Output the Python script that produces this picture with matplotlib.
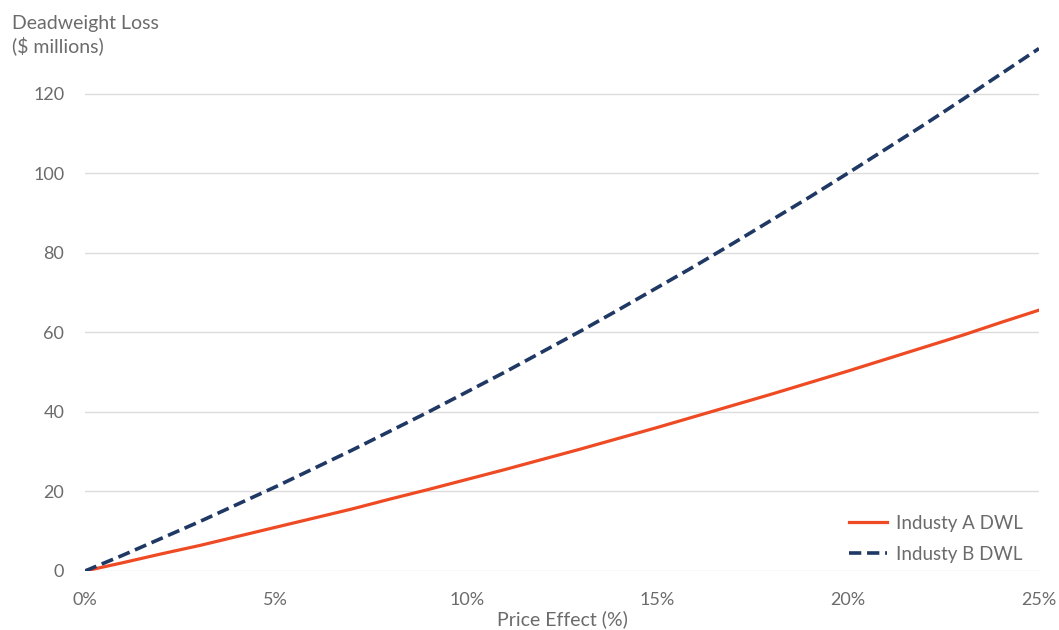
import matplotlib.pyplot as plt
from matplotlib.ticker import FuncFormatter

# price effect in percent, and deadweight loss ($ millions) for each industry
price_effect = [0, 1, 2, 3, 4, 5, 6, 7, 8, 9, 10, 11, 12,
                13, 14, 15, 16, 17, 18, 19, 20, 21, 22, 23, 24, 25]
dwl_a = [0, 2.1, 4.3, 6.4, 8.7, 11.0, 13.3, 15.6, 18.1, 20.5, 23.0, 25.5, 28.1,
         30.7, 33.4, 36.1, 38.9, 41.7, 44.5, 47.4, 50.3, 53.3, 56.3, 59.3, 62.5, 65.6]
dwl_b = [0, 4.0, 8.2, 12.4, 16.8, 21.2, 25.8, 30.4, 35.2, 40.0, 45.0, 50.0, 55.2,
         60.4, 65.8, 71.3, 76.8, 82.5, 88.3, 94.1, 100.1, 106.2, 112.3, 118.6, 125.0, 131.4]

x_ticks = [0, 5, 10, 15, 20, 25]
y_ticks = [0, 20, 40, 60, 80, 100, 120]

TEXT = '#6b6b6b'
FS = 14
plt.rcParams['font.family'] = ['Lato', 'DejaVu Sans']

fig = plt.figure(figsize=(10.59, 6.3), dpi=100)
ax = fig.add_axes([0.0803, 0.0937, 0.9008, 0.852])

ax.plot(price_effect, dwl_a, color='#ee4b24', lw=2.3, label='Industy A DWL', zorder=3)
ax.plot(price_effect, dwl_b, color='#1f3864', lw=2.6, ls=(0, (3.4, 1.6)),
        label='Industy B DWL', zorder=3)

ax.set_xlim(0, 25)
ax.set_ylim(0, 135)
ax.set_xticks(x_ticks)
ax.set_yticks(y_ticks)
ax.xaxis.set_major_formatter(FuncFormatter(lambda v, p: f'{v:.0f}%'))

ax.grid(axis='y', color='#dcdcdc', lw=1.0)
ax.set_axisbelow(True)
for s in ax.spines.values():
    s.set_visible(False)
ax.tick_params(axis='both', length=0, labelsize=FS - 1, labelcolor=TEXT)
ax.tick_params(axis='y', pad=15)
ax.tick_params(axis='x', pad=15)

ax.set_xlabel('Price Effect (%)', fontsize=FS, color=TEXT, labelpad=2)
fig.text(0.011, 1 - 15 / 630, 'Deadweight Loss\n($ millions)', fontsize=FS, color=TEXT,
         va='top', ha='left', linespacing=1.3)

leg = ax.legend(loc='lower right', bbox_to_anchor=(1.001, -0.016), frameon=False,
                fontsize=FS - 0.5, labelcolor=TEXT, handlelength=2.0, handletextpad=0.5,
                labelspacing=0.75)

fig.savefig('out.png', dpi=100)
